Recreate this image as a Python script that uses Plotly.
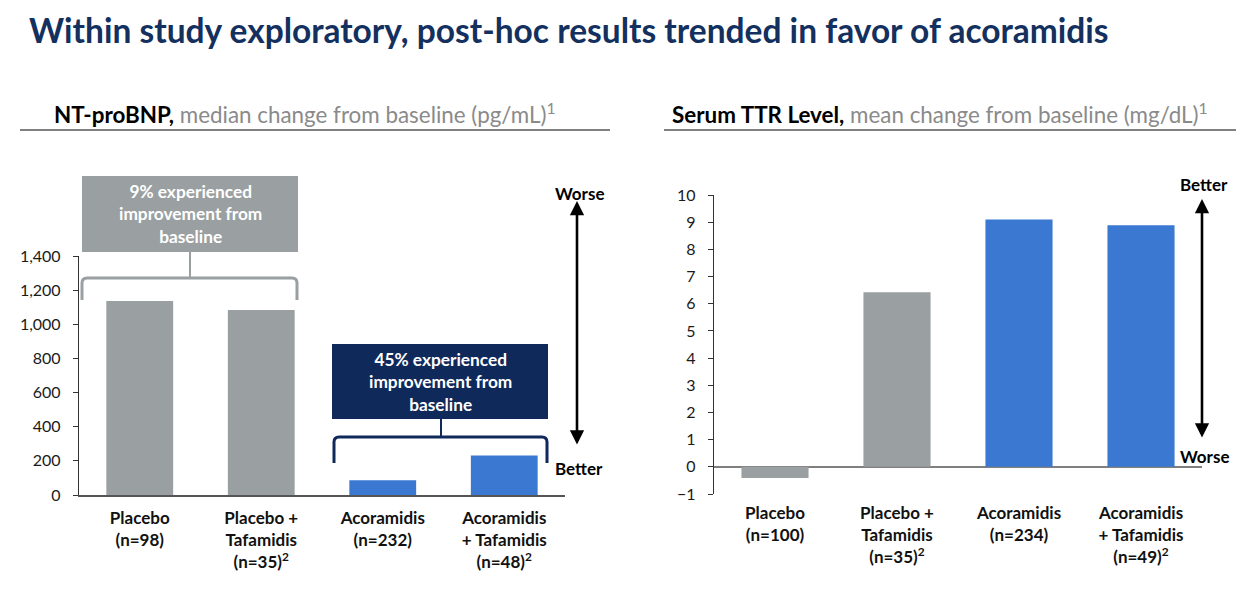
import plotly.graph_objects as go

W, H = 1252, 596
OFF = 8  # page body margin shifts the figure by this much in the screenshot

# ---- data ----
groups = ["Placebo", "Placebo +<br>Tafamidis", "Acoramidis", "Acoramidis<br>+ Tafamidis"]
nt_n = ["(n=98)", "(n=35)<sup>2</sup>", "(n=232)", "(n=48)<sup>2</sup>"]
ttr_n = ["(n=100)", "(n=35)<sup>2</sup>", "(n=234)", "(n=49)<sup>2</sup>"]
nt_probnp_change = [1136, 1083, 87, 232]     # pg/mL, median change
ttr_change = [-0.41, 6.42, 9.1, 8.89]       # mg/dL, mean change
nt_ticks = [0, 200, 400, 600, 800, 1000, 1200, 1400]
ttr_ticks = [-1, 0, 1, 2, 3, 4, 5, 6, 7, 8, 9, 10]

GRAY = "#9A9FA2"
BLUE = "#3A78D2"
NAVY = "#10295B"
bar_colors = [GRAY, GRAY, BLUE, BLUE]
FONT = "Lato, 'Open Sans', sans-serif"


def px(x):
    return (x - OFF) / W


def py(y):
    return 1 - (y - OFF) / H


nt_labels = [f"{g}<br>{n}" for g, n in zip(groups, nt_n)]
ttr_labels = [f"{g}<br>{n}" for g, n in zip(groups, ttr_n)]

fig = go.Figure()
fig.add_trace(go.Bar(x=nt_labels, y=nt_probnp_change, marker_color=bar_colors,
                     marker_line_width=0, xaxis="x", yaxis="y", hoverinfo="x+y"))
fig.add_trace(go.Bar(x=ttr_labels, y=ttr_change, marker_color=bar_colors,
                     marker_line_width=0, xaxis="x2", yaxis="y2", hoverinfo="x+y"))

axis_common = dict(fixedrange=True, showgrid=False, automargin=False)
xcommon = dict(axis_common, type="category", ticks="", ticklabelstandoff=7,
               tickfont=dict(family=FONT, size=17, color="#111111", weight="bold"))
ycommon = dict(axis_common, ticks="outside", ticklen=5, tickwidth=1.2, tickcolor="#333333",
               showline=True, linecolor="#333333", linewidth=1.3,
               tickfont=dict(family=FONT, size=16, color="#1a1a1a"), ticklabelstandoff=9)

fig.update_layout(
    width=W, height=H, autosize=False,
    margin=dict(l=0, r=0, t=0, b=0, autoexpand=False),
    paper_bgcolor="white", plot_bgcolor="white",
    showlegend=False, bargap=0.45,
    font=dict(family=FONT, color="#111111"),
    xaxis=dict(xcommon, domain=[px(79), px(565)], anchor="y",
               showline=True, linecolor="#555555", linewidth=1.6),
    yaxis=dict(ycommon, domain=[py(495), py(256)], anchor="x", range=[0, 1400],
               tickvals=nt_ticks, tickformat=",d", zeroline=False),
    xaxis2=dict(xcommon, domain=[px(714), px(1202)], anchor="y2", showline=False),
    yaxis2=dict(ycommon, domain=[py(494), py(195)], anchor="x2", range=[-1, 10],
                tickvals=ttr_ticks, zeroline=True, zerolinecolor="#7F7F7F", zerolinewidth=2),
)

shapes = []
annos = []

# title
annos.append(dict(xref="paper", yref="paper", x=px(27), y=py(30), xanchor="left", yanchor="middle",
                  text="<b>Within study exploratory, post-hoc results trended in favor of acoramidis</b>",
                  showarrow=False, font=dict(family=FONT, size=33.5, color="#13305F")))

# panel headings + underline rules
for x0, x1, xt, bold, rest in [
    (20, 610, 52, "NT-proBNP,", " median change from baseline (pg/mL)<sup>1</sup>"),
    (664, 1236, 670, "Serum TTR Level,", " mean change from baseline (mg/dL)<sup>1</sup>"),
]:
    annos.append(dict(xref="paper", yref="paper", x=px(xt), y=py(113), xanchor="left", yanchor="middle",
                      text=f"<b>{bold}</b><span style='color:#8A8A8A'>{rest}</span>",
                      showarrow=False, font=dict(family=FONT, size=22.4, color="#000000")))
    shapes.append(dict(type="line", xref="paper", yref="paper", x0=px(x0), x1=px(x1),
                       y0=py(130), y1=py(130), line=dict(color="#808080", width=2)))


# callout boxes with brackets
def callout(bx0, bx1, by0, by1, fill, text, brx0, brx1, bry, bry_end, stem_x):
    shapes.append(dict(type="rect", xref="paper", yref="paper", x0=px(bx0), x1=px(bx1),
                       y0=py(by1), y1=py(by0), fillcolor=fill, line=dict(width=0), layer="above"))
    annos.append(dict(xref="paper", yref="paper", x=px((bx0 + bx1) / 2), y=py((by0 + by1) / 2),
                      xanchor="center", yanchor="middle", text=f"<b>{text}</b>", showarrow=False,
                      font=dict(family=FONT, size=17.3, color="white")))
    r = 5
    path = (f"M {px(brx0)},{py(bry_end)} L {px(brx0)},{py(bry + r)} "
            f"Q {px(brx0)},{py(bry)} {px(brx0 + r)},{py(bry)} "
            f"L {px(brx1 - r)},{py(bry)} Q {px(brx1)},{py(bry)} {px(brx1)},{py(bry + r)} "
            f"L {px(brx1)},{py(bry_end)}")
    shapes.append(dict(type="path", xref="paper", yref="paper", path=path,
                       line=dict(color=fill, width=3)))
    shapes.append(dict(type="line", xref="paper", yref="paper", x0=px(stem_x), x1=px(stem_x),
                       y0=py(by1), y1=py(bry), line=dict(color=fill, width=2)))


callout(82, 298, 176, 252, GRAY, "9% experienced<br>improvement from<br>baseline",
        82, 297, 278, 300, 190)
callout(332, 548, 344, 419, NAVY, "45% experienced<br>improvement from<br>baseline",
        334, 547, 437, 463, 441)

# worse / better arrows
for ax_x, top, bot, top_lbl, bot_lbl, top_txt_y, bot_txt_y in [
    (577, 201, 446, "Worse", "Better", 193, 468),
    (1202, 199, 439, "Better", "Worse", 184, 456),
]:
    annos.append(dict(xref="paper", yref="paper", x=px(ax_x), y=py(top), ax=0, ay=bot - top,
                      text="", showarrow=True, arrowhead=2, arrowside="end+start",
                      arrowsize=1.1, arrowwidth=2.6, arrowcolor="#000000"))
    for lbl, ty in [(top_lbl, top_txt_y), (bot_lbl, bot_txt_y)]:
        annos.append(dict(xref="paper", yref="paper", x=px(ax_x + 2), y=py(ty), text=f"<b>{lbl}</b>",
                          showarrow=False, xanchor="center", yanchor="middle",
                          font=dict(family=FONT, size=17, color="#000000")))

fig.update_layout(shapes=shapes, annotations=annos)
fig.write_html("out.html")
